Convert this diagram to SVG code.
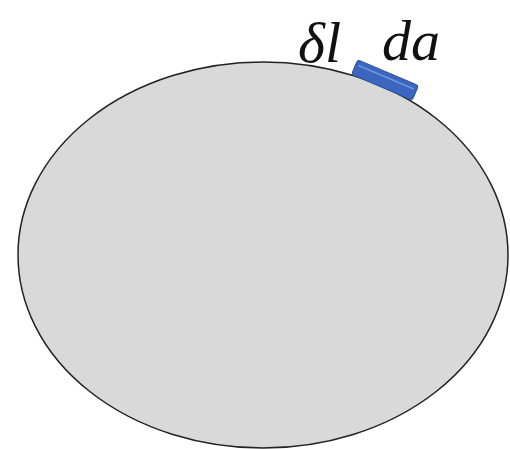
<svg xmlns="http://www.w3.org/2000/svg" width="510" height="449" viewBox="0 0 510 449">
<style>
.lbl{font-family:"Liberation Serif","DejaVu Serif",serif;font-style:italic;font-size:58px;fill:#111}
</style>
<rect width="510" height="449" fill="#fff"/>
<g id="body">
<ellipse cx="263" cy="255" rx="245" ry="193" fill="#d9d9d9" stroke="#222" stroke-width="1.5"/>
</g>
<g id="pad">
<g transform="translate(385,80) rotate(23)">
<rect x="-33" y="-8" width="66" height="16" rx="3" fill="#3b66c0" stroke="#2a4f9e" stroke-width="1"/>
<line x1="-30" y1="-3" x2="30" y2="-3" stroke="#7196dc" stroke-width="1.5"/>
</g>
</g>
<g id="labels">
<text class="lbl" x="298" y="62">δl</text>
<text class="lbl" x="382" y="60">da</text>
</g>
</svg>
